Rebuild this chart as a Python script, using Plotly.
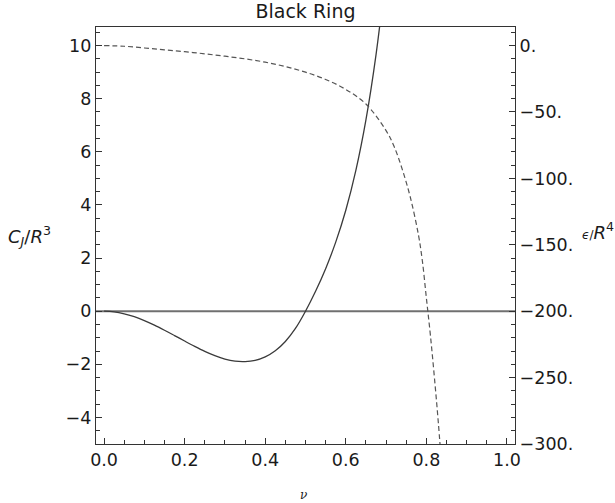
import plotly.graph_objects as go

# ---- data ----
nu_cj = [0.0, 0.025, 0.05, 0.075, 0.1, 0.125, 0.15, 0.175, 0.2, 0.225, 0.25, 0.275,
         0.3, 0.325, 0.35, 0.375, 0.4, 0.425, 0.45, 0.475, 0.5, 0.525, 0.55, 0.575,
         0.6, 0.625, 0.65, 0.675, 0.7]
cj_r3 = [0.0, -0.025, -0.097, -0.208, -0.353, -0.525, -0.716, -0.918, -1.124, -1.325,
         -1.512, -1.675, -1.803, -1.880, -1.895, -1.850, -1.720, -1.490, -1.140, -0.650,
         0.0, 0.75, 1.60, 2.60, 3.80, 5.30, 7.20, 9.65, 12.80]

nu_eps = [0.0, 0.05, 0.1, 0.15, 0.2, 0.25, 0.3, 0.35, 0.4, 0.45, 0.5, 0.55, 0.6, 0.65,
          0.7, 0.72, 0.74, 0.76, 0.78, 0.79, 0.8, 0.81, 0.82, 0.83, 0.84]
eps_r4 = [0.0, -0.5, -1.8, -3.2, -4.6, -6.2, -8.0, -10.0, -12.5, -15.8, -20.0, -25.5,
          -33.0, -44.0, -64.0, -76.0, -93.0, -114.0, -142.0, -162.0, -190.0, -218.0,
          -250.0, -285.0, -325.0]

x_ticks = [0.0, 0.2, 0.4, 0.6, 0.8, 1.0]
y_ticks = [-4, -2, 0, 2, 4, 6, 8, 10]
y2_ticks = [0, -50, -100, -150, -200, -250, -300]
y2_text = ["0.", "\u221250.", "\u2212100.", "\u2212150.", "\u2212200.", "\u2212250.", "\u2212300."]

FONT = "DejaVu Sans"
TXT = "#1a1a1a"
AX = "#333333"

fig = go.Figure()
fig.add_trace(go.Scatter(x=[-0.02, 1.02], y=[0, 0], mode="lines",
                         line=dict(color="#707070", width=2), hoverinfo="skip",
                         showlegend=False))
fig.add_trace(go.Scatter(x=nu_cj, y=cj_r3, mode="lines", line_shape="spline",
                         line=dict(color="#3a3a3a", width=1.3), showlegend=False))
fig.add_trace(go.Scatter(x=nu_eps, y=eps_r4, mode="lines", line_shape="spline",
                         line=dict(color="#555555", width=1.2, dash="5px,3px"),
                         yaxis="y2", showlegend=False))

tickfont = dict(family=FONT, size=17.5, color=TXT)
fig.update_layout(
    width=615, height=503,
    margin=dict(l=96, r=100, t=27, b=59),
    paper_bgcolor="white", plot_bgcolor="white",
    title=dict(text="Black Ring", x=0.4967, xanchor="center", y=0.978,
               yanchor="middle", yref="container",
               font=dict(family=FONT, size=19, color=TXT)),
    xaxis=dict(range=[-0.02, 1.02], tickvals=x_ticks, tickformat=".1f",
               ticks="inside", ticklen=6, tickwidth=1, tickcolor=AX,
               minor=dict(dtick=0.05, tick0=0, ticks="inside", ticklen=3.5,
                          tickcolor=AX, showgrid=False),
               showline=True, linecolor=AX, linewidth=1.2, mirror=True,
               showgrid=False, zeroline=False, tickfont=tickfont),
    yaxis=dict(range=[-5, 10.7], tickvals=y_ticks, ticks="inside", ticklen=6,
               tickwidth=1, tickcolor=AX,
               minor=dict(dtick=0.5, tick0=0, ticks="inside", ticklen=3.5,
                          tickcolor=AX, showgrid=False),
               showline=True, linecolor=AX, linewidth=1.2,
               showgrid=False, zeroline=False, tickfont=tickfont),
    yaxis2=dict(range=[-300, 14], overlaying="y", side="right",
                tickvals=y2_ticks, ticktext=y2_text, ticks="inside", ticklen=6,
                tickwidth=1, tickcolor=AX,
                minor=dict(dtick=10, tick0=0, ticks="inside", ticklen=3.5,
                           tickcolor=AX, showgrid=False),
                showline=True, linecolor=AX, linewidth=1.2,
                showgrid=False, zeroline=False, tickfont=tickfont),
    annotations=[
        dict(text="<i>C</i><sub><i>J</i></sub>/<i>R</i><sup>3</sup>",
             xref="paper", yref="paper", x=-0.158, y=0.50, xanchor="center",
             yanchor="middle", showarrow=False,
             font=dict(family=FONT, size=18, color=TXT)),
        dict(text="<span style='font-size:12px'><i>\u03f5</i>/</span><i>R</i><sup>4</sup>",
             xref="paper", yref="paper", x=1.197, y=0.51, xanchor="center",
             yanchor="middle", showarrow=False,
             font=dict(family=FONT, size=18, color=TXT)),
        dict(text="<i>\u03bd</i>", xref="paper", yref="paper", x=0.496, y=-0.122,
             xanchor="center", yanchor="middle", showarrow=False,
             font=dict(family="DejaVu Serif", size=12, color=TXT)),
    ],
)

fig.write_html("out.html", config={"displayModeBar": False},
               post_script="document.body.style.margin='0px';document.body.style.overflow='hidden';")
